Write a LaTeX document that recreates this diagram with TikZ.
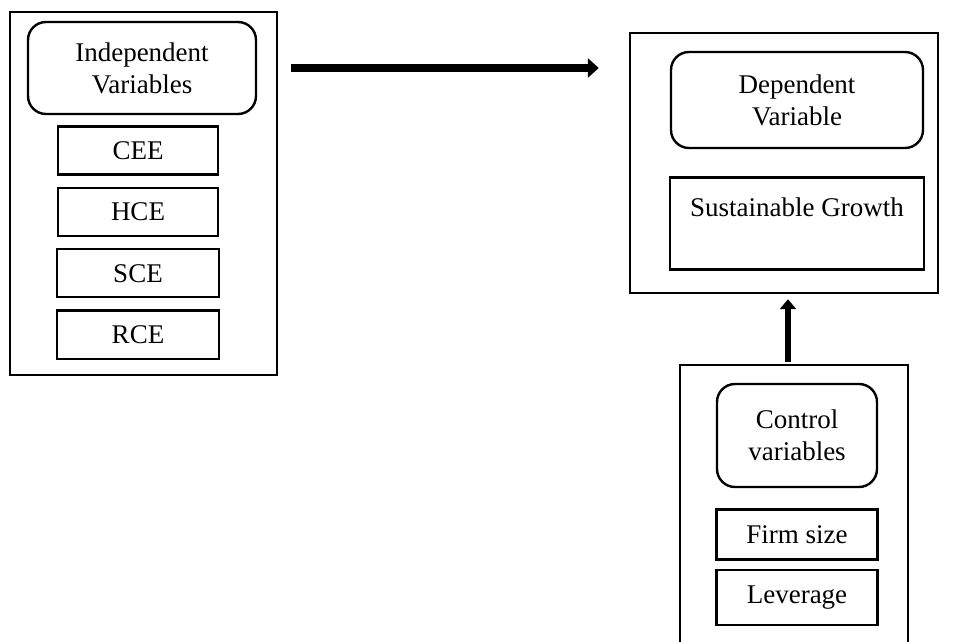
\documentclass[tikz,border=0pt]{standalone}
\usepackage{fontspec}
\setmainfont{Liberation Serif}
\usetikzlibrary{positioning,arrows.meta}
\begin{document}
\begin{tikzpicture}[x=1pt,y=1pt,
  outerbox/.style={draw,line width=2.4pt},
  varbox/.style={draw,line width=2.4pt,minimum height=48pt,align=center,
    font=\fontsize{27}{32}\selectfont},
  titlebox/.style={varbox,rounded corners=18pt},
  bigarrow/.style={line width=7.7pt,-{Triangle[length=11pt,width=19pt]}},
  uparrow/.style={line width=6.7pt,-{Triangle[length=10pt,width=16pt]}}]
  \useasboundingbox (0,0) rectangle (959,641);
  \clip (0,0) rectangle (959,641);
  % Independent
  \node[outerbox,minimum width=267pt,minimum height=363pt] (indepBox) at (143.5,447.5) {};
  \node[titlebox,minimum width=228pt,minimum height=92pt] (indepTitle) at (142,573) {Independent\\Variables};
  \node[varbox,minimum width=160pt] (cee) at (138,490.5) {CEE};
  \node[varbox,minimum width=160pt,below=11pt of cee] (hce) {HCE};
  \node[varbox,minimum width=162pt,below=11pt of hce] (sce) {SCE};
  \node[varbox,minimum width=162pt,below=11pt of sce] (rce) {RCE};
  % Dependent
  \node[outerbox,minimum width=308pt,minimum height=260pt] (depBox) at (784,478) {};
  \node[titlebox,minimum width=252pt,minimum height=96pt] (depTitle) at (797,541) {Dependent\\Variable};
  \node[varbox,minimum width=254pt,minimum height=92pt,below=27pt of depTitle] (growth) {Sustainable Growth\\~};
  % Control
  \node[outerbox,minimum width=228pt,minimum height=300pt] (ctrlBox) at (794,126) {};
  \node[titlebox,minimum width=160pt,minimum height=103pt] (ctrlTitle) at (797,205.5) {Control\\variables};
  \node[varbox,minimum width=161pt,minimum height=50pt,below=20pt of ctrlTitle] (firm) {Firm size};
  \node[varbox,minimum width=161pt,minimum height=55pt,below=8pt of firm] (leverage) {Leverage};
  % Piler
  \draw[bigarrow] ([xshift=13pt]indepBox.east |- indepTitle) -- ([xshift=-30pt]depBox.west |- indepTitle);
  \draw[uparrow] ([xshift=-6pt,yshift=2pt]ctrlBox.north) -- ([xshift=-6pt,yshift=-5pt]ctrlBox.north |- depBox.south);
\end{tikzpicture}
\end{document}
